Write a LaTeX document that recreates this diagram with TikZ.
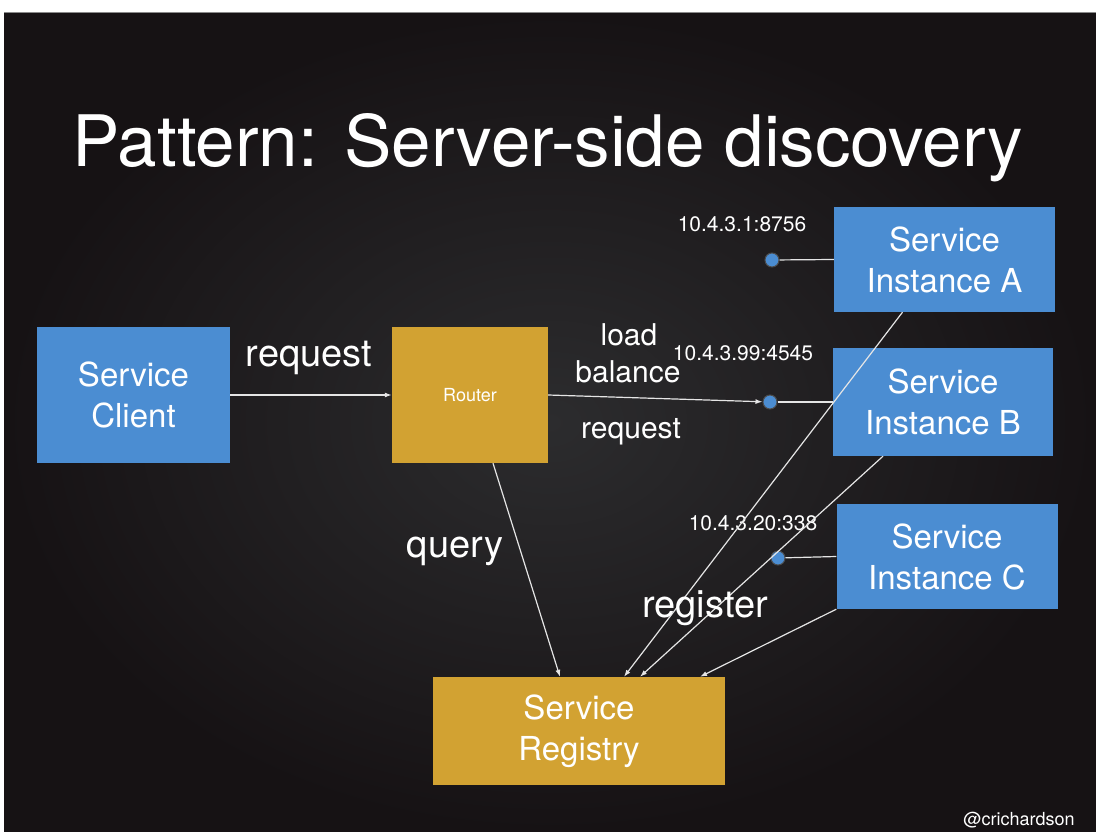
\documentclass[tikz,border=0pt]{standalone}
\usepackage{fontspec}
\setmainfont{TeX Gyre Heros}
\usetikzlibrary{arrows.meta}

\definecolor{svcblue}{HTML}{4B8DD2}
\definecolor{gold}{HTML}{D2A232}
\definecolor{bgmid}{HTML}{2C2C2E}
\definecolor{bgedge}{HTML}{161214}
\definecolor{rimgray}{HTML}{8A8A8A}

\tikzset{
  box/.style={inner sep=0pt, align=center, text=white,
    font=\fontsize{33}{41}\selectfont},
  svc/.style={box, fill=svcblue},
  goldbox/.style={box, fill=gold},
  lbl/.style={text=white, inner sep=0pt, anchor=base},
  biglbl/.style={lbl, font=\fontsize{38}{40}\selectfont},
  midlbl/.style={lbl, font=\fontsize{30}{32}\selectfont},
  iplbl/.style={lbl, font=\fontsize{21}{23}\selectfont},
  portdot/.style={circle, fill=svcblue, inner sep=0pt, minimum size=14pt,
    draw=black!70, line width=1pt},
  link/.style={draw=white!90!black, line width=1.2pt},
  flow/.style={link, -{Latex[length=7pt,width=5pt]}}
}

\begin{document}
\begin{tikzpicture}[x=1pt,y=-1pt]
\useasboundingbox (0,0) rectangle (1096,832);

% slide frame and dark background
\fill[white] (0,0) rectangle (1096,832);
\shade[inner color=bgmid, outer color=bgedge] (4,13) rectangle (1096,832);
\draw[rimgray, line width=1.5pt] (4,12.5) -- (1096,12.5);

% title
\node[lbl, font=\fontsize{71}{75}\selectfont] (title) at (548,167)
  {Pattern: Server-side discovery};

% boxes
\node[svc, minimum width=193pt, minimum height=136pt] (client) at (133.5,395) {Service\\Client};
\node[goldbox, minimum width=156pt, minimum height=136pt,
      font=\fontsize{18}{20}\selectfont] (router) at (470,395) {Router};
\node[svc, minimum width=221pt, minimum height=105pt] (A) at (944.5,259.5) {Service\\Instance A};
\node[svc, minimum width=220pt, minimum height=108pt] (B) at (943,402) {Service\\Instance B};
\node[svc, minimum width=221pt, minimum height=105pt] (C) at (947,556.5) {Service\\Instance C};
\node[goldbox, minimum width=292pt, minimum height=108pt] (registry) at (579,731) {Service\\Registry};

% instance endpoints
\node[portdot] (dA) at (772,260) {};
\node[portdot] (dB) at (770,402) {};
\node[portdot] (dC) at (778,558) {};

% endpoint addresses
\node[iplbl] (ipA) at (742,232) {10.4.3.1:8756};
\node[iplbl] (ipB) at (743,360) {10.4.3.99:4545};
\node[iplbl] (ipC) at (753,530) {10.4.3.20:338};

% connectors
\draw[flow] (client) -- (router);
\draw[flow] (router.east) -- (dB);
\draw[link] (dA) -- (A.west);
\draw[link] (dB) -- (B.west);
\draw[link] (dC) -- (C.west);
\draw[flow] ([xshift=23pt]router.south) -- ([xshift=-19pt]registry.north);
\draw[flow] ([xshift=-42pt]A.south) -- ([xshift=45pt]registry.north);
\draw[flow] ([xshift=-60pt]B.south) -- ([xshift=61pt]registry.north);
\draw[flow] (C.south west) -- ([xshift=121pt]registry.north);

% connector labels
\node[biglbl] (lreq) at (309,366) {request};
\node[midlbl] (lload) at (629,345) {load};
\node[midlbl] (lbal) at (628,382) {balance};
\node[midlbl] (lreq2) at (631,438) {request};
\node[biglbl] (lquery) at (455,557) {query};
\node[biglbl] (lreg) at (705,617) {register};

% author handle
\node[lbl, font=\fontsize{18}{20}\selectfont] (handle) at (1019,825) {@crichardson};
\end{tikzpicture}
\end{document}
